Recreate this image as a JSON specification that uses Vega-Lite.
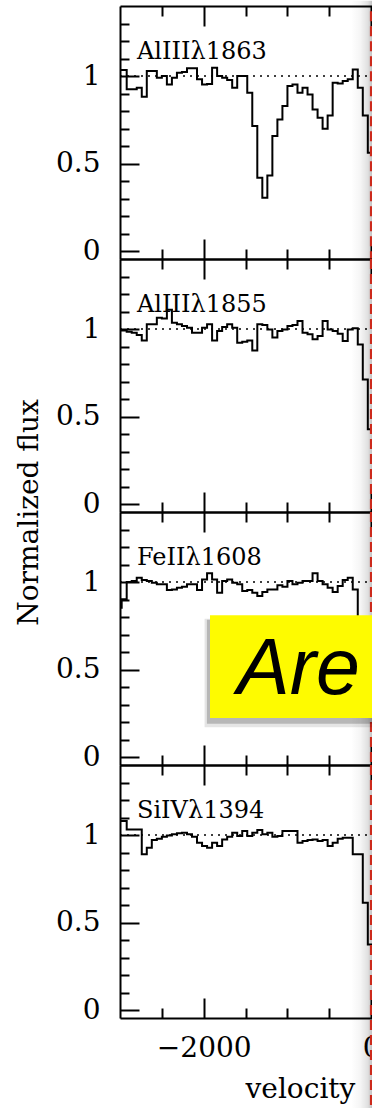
{
  "$schema": "https://vega.github.io/schema/vega-lite/v6.json",
  "padding": {"left": 15, "top": 0, "right": 0, "bottom": 0},
  "background": "white",
  "config": {
    "view": {"stroke": null},
    "axis": {"grid": false, "domainColor": "#000", "domainWidth": 2, "tickColor": "#000", "tickWidth": 2, "labelFont": "DejaVu Serif", "labelFontSize": 28, "labelColor": "#000", "titleFont": "DejaVu Serif", "titleFontSize": 28, "titleFontWeight": "normal", "titleColor": "#000", "labelFlush": false, "labelOverlap": false, "labelBound": false}
  },
  "datasets": {
    "s1": [{"v":-3000,"f":1.034},{"v":-2980,"f":1.034},{"v":-2920,"f":0.924},{"v":-2860,"f":0.924},{"v":-2800,"f":0.933},{"v":-2740,"f":0.882},{"v":-2680,"f":1.029},{"v":-2620,"f":1.029},{"v":-2560,"f":0.990},{"v":-2500,"f":1.0},{"v":-2440,"f":0.952},{"v":-2380,"f":0.990},{"v":-2320,"f":1.019},{"v":-2260,"f":1.023},{"v":-2200,"f":1.044},{"v":-2140,"f":1.044},{"v":-2080,"f":0.981},{"v":-2020,"f":0.952},{"v":-1960,"f":0.955},{"v":-1900,"f":1.048},{"v":-1840,"f":1.0},{"v":-1780,"f":0.990},{"v":-1720,"f":0.977},{"v":-1660,"f":0.933},{"v":-1600,"f":1.0},{"v":-1540,"f":1.0},{"v":-1480,"f":0.905},{"v":-1420,"f":0.714},{"v":-1360,"f":0.419},{"v":-1300,"f":0.305},{"v":-1240,"f":0.432},{"v":-1180,"f":0.657},{"v":-1120,"f":0.752},{"v":-1060,"f":0.829},{"v":-1000,"f":0.943},{"v":-940,"f":0.952},{"v":-880,"f":0.905},{"v":-820,"f":0.933},{"v":-760,"f":0.895},{"v":-700,"f":0.809},{"v":-640,"f":0.762},{"v":-580,"f":0.699},{"v":-520,"f":0.775},{"v":-460,"f":0.962},{"v":-400,"f":0.958},{"v":-340,"f":0.971},{"v":-280,"f":0.981},{"v":-220,"f":1.038},{"v":-160,"f":0.933},{"v":-100,"f":0.775},{"v":-40,"f":0.562},{"v":20,"f":0.562}],
    "s2": [{"v":-3000,"f":0.992},{"v":-2980,"f":0.992},{"v":-2920,"f":0.985},{"v":-2860,"f":0.979},{"v":-2800,"f":0.966},{"v":-2740,"f":0.935},{"v":-2680,"f":1.027},{"v":-2620,"f":1.027},{"v":-2560,"f":1.065},{"v":-2500,"f":1.06},{"v":-2440,"f":1.11},{"v":-2380,"f":1.036},{"v":-2320,"f":1.027},{"v":-2260,"f":1.017},{"v":-2200,"f":1.008},{"v":-2140,"f":0.979},{"v":-2080,"f":0.979},{"v":-2020,"f":1.008},{"v":-1960,"f":1.027},{"v":-1900,"f":0.935},{"v":-1840,"f":0.989},{"v":-1780,"f":1.011},{"v":-1720,"f":1.027},{"v":-1660,"f":1.008},{"v":-1600,"f":0.922},{"v":-1540,"f":0.928},{"v":-1480,"f":0.935},{"v":-1420,"f":0.878},{"v":-1360,"f":1.027},{"v":-1300,"f":1.023},{"v":-1240,"f":0.998},{"v":-1180,"f":0.951},{"v":-1120,"f":0.989},{"v":-1060,"f":0.998},{"v":-1000,"f":1.017},{"v":-940,"f":1.023},{"v":-880,"f":1.046},{"v":-820,"f":0.979},{"v":-760,"f":0.970},{"v":-700,"f":0.941},{"v":-640,"f":0.960},{"v":-580,"f":1.046},{"v":-520,"f":0.998},{"v":-460,"f":0.989},{"v":-400,"f":0.973},{"v":-340,"f":0.931},{"v":-280,"f":0.998},{"v":-220,"f":1.004},{"v":-160,"f":0.912},{"v":-100,"f":0.712},{"v":-40,"f":0.427},{"v":20,"f":0.427}],
    "s3": [{"v":-3000,"f":0.853},{"v":-2980,"f":0.901},{"v":-2920,"f":1.0},{"v":-2860,"f":1.006},{"v":-2800,"f":1.025},{"v":-2740,"f":1.011},{"v":-2680,"f":1.006},{"v":-2620,"f":0.996},{"v":-2560,"f":0.987},{"v":-2500,"f":0.987},{"v":-2440,"f":0.954},{"v":-2380,"f":0.958},{"v":-2320,"f":0.968},{"v":-2260,"f":0.973},{"v":-2200,"f":0.987},{"v":-2140,"f":0.987},{"v":-2080,"f":0.954},{"v":-2020,"f":1.015},{"v":-1960,"f":1.05},{"v":-1900,"f":1.015},{"v":-1840,"f":0.939},{"v":-1780,"f":1.006},{"v":-1720,"f":1.015},{"v":-1660,"f":0.996},{"v":-1600,"f":0.987},{"v":-1540,"f":0.949},{"v":-1480,"f":0.954},{"v":-1420,"f":0.939},{"v":-1360,"f":0.920},{"v":-1300,"f":0.943},{"v":-1240,"f":0.958},{"v":-1180,"f":0.958},{"v":-1120,"f":0.981},{"v":-1060,"f":0.973},{"v":-1000,"f":1.006},{"v":-940,"f":0.987},{"v":-880,"f":0.996},{"v":-820,"f":1.006},{"v":-760,"f":1.006},{"v":-700,"f":1.05},{"v":-640,"f":1.006},{"v":-580,"f":0.987},{"v":-520,"f":0.968},{"v":-460,"f":0.943},{"v":-400,"f":0.977},{"v":-340,"f":1.011},{"v":-280,"f":1.025},{"v":-220,"f":0.958},{"v":-160,"f":0.55},{"v":-100,"f":0.35},{"v":-40,"f":0.3},{"v":20,"f":0.3}],
    "s4": [{"v":-3000,"f":1.08},{"v":-2980,"f":1.08},{"v":-2920,"f":1.032},{"v":-2860,"f":1.032},{"v":-2800,"f":1.032},{"v":-2740,"f":0.89},{"v":-2680,"f":0.928},{"v":-2620,"f":0.971},{"v":-2560,"f":0.979},{"v":-2500,"f":0.99},{"v":-2440,"f":0.998},{"v":-2380,"f":1.004},{"v":-2320,"f":1.01},{"v":-2260,"f":1.013},{"v":-2200,"f":1.004},{"v":-2140,"f":0.99},{"v":-2080,"f":0.956},{"v":-2020,"f":0.937},{"v":-1960,"f":0.928},{"v":-1900,"f":0.956},{"v":-1840,"f":0.937},{"v":-1780,"f":0.975},{"v":-1720,"f":0.99},{"v":-1660,"f":1.013},{"v":-1600,"f":0.994},{"v":-1540,"f":1.023},{"v":-1480,"f":0.994},{"v":-1420,"f":1.013},{"v":-1360,"f":1.029},{"v":-1300,"f":1.004},{"v":-1240,"f":1.013},{"v":-1180,"f":0.99},{"v":-1120,"f":0.994},{"v":-1060,"f":1.023},{"v":-1000,"f":1.023},{"v":-940,"f":1.023},{"v":-880,"f":0.956},{"v":-820,"f":0.966},{"v":-760,"f":0.971},{"v":-700,"f":0.975},{"v":-640,"f":0.966},{"v":-580,"f":0.971},{"v":-520,"f":0.937},{"v":-460,"f":0.956},{"v":-400,"f":0.979},{"v":-340,"f":0.985},{"v":-280,"f":0.985},{"v":-220,"f":0.89},{"v":-160,"f":0.89},{"v":-100,"f":0.613},{"v":-40,"f":0.375},{"v":20,"f":0.375}]
  },
  "spacing": 0,
  "bounds": "flush",
  "vconcat": [
    {
      "width": 252, "height": 253,
      "resolve": {"axis": {"x": "independent", "y": "independent"}},
      "layer": [
        {"data": {"name": "s1"}, "mark": {"type": "line", "interpolate": "step-after", "color": "#000", "strokeWidth": 2, "clip": true},
         "encoding": {
           "x": {"field": "v", "type": "quantitative", "scale": {"domain": [-3000, 10], "nice": false, "zero": false}, "axis": {"orient": "bottom", "values": [-2000, 0], "tickSize": -20, "labels": false, "title": null}},
           "y": {"field": "f", "type": "quantitative", "scale": {"domain": [-0.045, 1.4], "nice": false, "zero": false}, "axis": {"orient": "left", "values": [0, 0.5, 1], "tickSize": -19, "labelPadding": 39, "format": "~g", "labelBaseline": "middle", "title": null}}}},
        {"data": {"values": [{}]}, "mark": {"type": "rule", "color": "#000", "strokeWidth": 1.5, "strokeDash": [2, 5]},
         "encoding": {
           "x": {"datum": -3000, "type": "quantitative", "axis": {"orient": "bottom", "values": [-2500, -1500, -1000, -500], "tickSize": -10, "labels": false, "domain": false, "title": null}},
           "x2": {"datum": 10},
           "y": {"datum": 1, "type": "quantitative", "axis": {"orient": "left", "values": [0.1, 0.2, 0.3, 0.4, 0.6, 0.7, 0.8, 0.9, 1.1, 1.2, 1.3], "tickSize": -9, "labels": false, "domain": false, "title": null}}}},
        {"data": {"values": [{"t": "AlIIIλ1863"}]}, "mark": {"type": "text", "font": "DejaVu Serif", "fontSize": 24, "align": "left", "baseline": "alphabetic", "color": "#000"},
         "encoding": {
           "x": {"datum": -2797, "type": "quantitative", "axis": {"orient": "top", "values": [-2000, 0], "tickSize": -20, "labels": false, "title": null}},
           "y": {"datum": 1.1, "type": "quantitative", "axis": null},
           "text": {"field": "t"}}},
        {"data": {"values": [{}]}, "mark": {"type": "rect", "fill": {"gradient": "linear", "x1": 0, "y1": 0, "x2": 1, "y2": 0, "stops": [{"offset": 0, "color": "rgba(0,0,0,0)"}, {"offset": 0.45, "color": "rgba(0,0,0,0.04)"}, {"offset": 0.8, "color": "rgba(0,0,0,0.12)"}, {"offset": 1, "color": "rgba(0,0,0,0.24)"}]}},
         "encoding": {
           "x": {"datum": -240, "type": "quantitative", "axis": {"orient": "top", "values": [-2500, -1500, -1000, -500], "tickSize": -10, "labels": false, "domain": false, "title": null}},
           "x2": {"datum": 10},
           "y": {"datum": 1.43, "type": "quantitative", "axis": null},
           "y2": {"datum": -0.045}}},
        {"data": {"values": [{}]}, "mark": {"type": "rule", "color": "#cc2a1c", "strokeWidth": 2.5, "strokeDash": [10, 5]},
         "encoding": {"x": {"datum": 0, "type": "quantitative", "axis": null}, "y": {"datum": 1.37, "type": "quantitative", "axis": null}, "y2": {"datum": -0.045}}}
      ]
    },
    {
      "width": 252, "height": 253,
      "resolve": {"axis": {"x": "independent", "y": "independent"}},
      "layer": [
        {"data": {"name": "s2"}, "mark": {"type": "line", "interpolate": "step-after", "color": "#000", "strokeWidth": 2, "clip": true},
         "encoding": {
           "x": {"field": "v", "type": "quantitative", "scale": {"domain": [-3000, 10], "nice": false, "zero": false}, "axis": {"orient": "bottom", "values": [-2000, 0], "tickSize": -20, "labels": false, "title": null}},
           "y": {"field": "f", "type": "quantitative", "scale": {"domain": [-0.045, 1.4], "nice": false, "zero": false}, "axis": {"orient": "left", "values": [0, 0.5, 1], "tickSize": -19, "labelPadding": 39, "format": "~g", "labelBaseline": "middle", "title": "Normalized flux", "titleX": -83, "titleY": 253, "titleAngle": -90, "titleAlign": "center", "titleBaseline": "alphabetic"}}}},
        {"data": {"values": [{}]}, "mark": {"type": "rule", "color": "#000", "strokeWidth": 1.5, "strokeDash": [2, 5]},
         "encoding": {
           "x": {"datum": -3000, "type": "quantitative", "axis": {"orient": "bottom", "values": [-2500, -1500, -1000, -500], "tickSize": -10, "labels": false, "domain": false, "title": null}},
           "x2": {"datum": 10},
           "y": {"datum": 1, "type": "quantitative", "axis": {"orient": "left", "values": [0.1, 0.2, 0.3, 0.4, 0.6, 0.7, 0.8, 0.9, 1.1, 1.2, 1.3], "tickSize": -9, "labels": false, "domain": false, "title": null}}}},
        {"data": {"values": [{"t": "AlIIIλ1855"}]}, "mark": {"type": "text", "font": "DejaVu Serif", "fontSize": 24, "align": "left", "baseline": "alphabetic", "color": "#000"},
         "encoding": {
           "x": {"datum": -2797, "type": "quantitative", "axis": {"orient": "top", "values": [-2000, 0], "tickSize": -20, "labels": false, "title": null}},
           "y": {"datum": 1.1, "type": "quantitative", "axis": null},
           "text": {"field": "t"}}},
        {"data": {"values": [{}]}, "mark": {"type": "rect", "fill": {"gradient": "linear", "x1": 0, "y1": 0, "x2": 1, "y2": 0, "stops": [{"offset": 0, "color": "rgba(0,0,0,0)"}, {"offset": 0.45, "color": "rgba(0,0,0,0.04)"}, {"offset": 0.8, "color": "rgba(0,0,0,0.12)"}, {"offset": 1, "color": "rgba(0,0,0,0.24)"}]}},
         "encoding": {
           "x": {"datum": -240, "type": "quantitative", "axis": {"orient": "top", "values": [-2500, -1500, -1000, -500], "tickSize": -10, "labels": false, "domain": false, "title": null}},
           "x2": {"datum": 10},
           "y": {"datum": 1.4, "type": "quantitative", "axis": null},
           "y2": {"datum": -0.045}}},
        {"data": {"values": [{}]}, "mark": {"type": "rule", "color": "#cc2a1c", "strokeWidth": 2.5, "strokeDash": [10, 5]},
         "encoding": {"x": {"datum": 0, "type": "quantitative", "axis": null}}}
      ]
    },
    {
      "width": 252, "height": 253,
      "resolve": {"axis": {"x": "independent", "y": "independent"}},
      "layer": [
        {"data": {"name": "s3"}, "mark": {"type": "line", "interpolate": "step-after", "color": "#000", "strokeWidth": 2, "clip": true},
         "encoding": {
           "x": {"field": "v", "type": "quantitative", "scale": {"domain": [-3000, 10], "nice": false, "zero": false}, "axis": {"orient": "bottom", "values": [-2000, 0], "tickSize": -20, "labels": false, "title": null}},
           "y": {"field": "f", "type": "quantitative", "scale": {"domain": [-0.045, 1.4], "nice": false, "zero": false}, "axis": {"orient": "left", "values": [0, 0.5, 1], "tickSize": -19, "labelPadding": 39, "format": "~g", "labelBaseline": "middle", "title": null}}}},
        {"data": {"values": [{}]}, "mark": {"type": "rule", "color": "#000", "strokeWidth": 1.5, "strokeDash": [2, 5]},
         "encoding": {
           "x": {"datum": -3000, "type": "quantitative", "axis": {"orient": "bottom", "values": [-2500, -1500, -1000, -500], "tickSize": -10, "labels": false, "domain": false, "title": null}},
           "x2": {"datum": 10},
           "y": {"datum": 1, "type": "quantitative", "axis": {"orient": "left", "values": [0.1, 0.2, 0.3, 0.4, 0.6, 0.7, 0.8, 0.9, 1.1, 1.2, 1.3], "tickSize": -9, "labels": false, "domain": false, "title": null}}}},
        {"data": {"values": [{"t": "FeIIλ1608"}]}, "mark": {"type": "text", "font": "DejaVu Serif", "fontSize": 24, "align": "left", "baseline": "alphabetic", "color": "#000"},
         "encoding": {
           "x": {"datum": -2797, "type": "quantitative", "axis": {"orient": "top", "values": [-2000, 0], "tickSize": -20, "labels": false, "title": null}},
           "y": {"datum": 1.1, "type": "quantitative", "axis": null},
           "text": {"field": "t"}}},
        {"data": {"values": [{}]}, "mark": {"type": "rect", "fill": {"gradient": "linear", "x1": 0, "y1": 0, "x2": 1, "y2": 0, "stops": [{"offset": 0, "color": "rgba(0,0,0,0)"}, {"offset": 0.45, "color": "rgba(0,0,0,0.04)"}, {"offset": 0.8, "color": "rgba(0,0,0,0.12)"}, {"offset": 1, "color": "rgba(0,0,0,0.24)"}]}},
         "encoding": {
           "x": {"datum": -240, "type": "quantitative", "axis": {"orient": "top", "values": [-2500, -1500, -1000, -500], "tickSize": -10, "labels": false, "domain": false, "title": null}},
           "x2": {"datum": 10},
           "y": {"datum": 1.4, "type": "quantitative", "axis": null},
           "y2": {"datum": -0.045}}},
        {"data": {"values": [{}]}, "mark": {"type": "rule", "color": "#cc2a1c", "strokeWidth": 2.5, "strokeDash": [10, 5]},
         "encoding": {"x": {"datum": 0, "type": "quantitative", "axis": null}}},
        {"data": {"values": [{}]}, "mark": {"type": "rect", "color": "#000", "opacity": 0.1},
         "encoding": {"x": {"datum": -1990, "type": "quantitative", "axis": null}, "x2": {"datum": 30}, "y": {"datum": 0.79, "type": "quantitative", "axis": null}, "y2": {"datum": 0.17}}},
        {"data": {"values": [{}]}, "mark": {"type": "rect", "color": "#000", "opacity": 0.2},
         "encoding": {"x": {"datum": -1962, "type": "quantitative", "axis": null}, "x2": {"datum": 30}, "y": {"datum": 0.785, "type": "quantitative", "axis": null}, "y2": {"datum": 0.19}}},
        {"data": {"values": [{}]}, "mark": {"type": "rect", "color": "#fefb00", "opacity": 1},
         "encoding": {"x": {"datum": -1925, "type": "quantitative", "axis": null}, "x2": {"datum": 30}, "y": {"datum": 0.811, "type": "quantitative", "axis": null}, "y2": {"datum": 0.223}}},
        {"data": {"values": [{"t": "Are"}]}, "mark": {"type": "text", "font": "Liberation Sans", "fontStyle": "italic", "fontSize": 79, "align": "left", "baseline": "alphabetic", "color": "#000"},
         "encoding": {"x": {"datum": -1602, "type": "quantitative", "axis": null}, "y": {"datum": 0.36, "type": "quantitative", "axis": null}, "text": {"field": "t"}}}
      ]
    },
    {
      "width": 252, "height": 253,
      "resolve": {"axis": {"x": "independent", "y": "independent"}},
      "layer": [
        {"data": {"name": "s4"}, "mark": {"type": "line", "interpolate": "step-after", "color": "#000", "strokeWidth": 2, "clip": true},
         "encoding": {
           "x": {"field": "v", "type": "quantitative", "scale": {"domain": [-3000, 10], "nice": false, "zero": false}, "axis": {"orient": "bottom", "values": [-2000, 0], "tickSize": -20, "labels": true, "format": "d", "labelPadding": 58, "labelBaseline": "alphabetic", "title": "velocity", "titleX": 125, "titleY": 79, "titleAlign": "left", "titleBaseline": "alphabetic", "titleAngle": 0}},
           "y": {"field": "f", "type": "quantitative", "scale": {"domain": [-0.045, 1.4], "nice": false, "zero": false}, "axis": {"orient": "left", "values": [0, 0.5, 1], "tickSize": -19, "labelPadding": 39, "format": "~g", "labelBaseline": "middle", "title": null}}}},
        {"data": {"values": [{}]}, "mark": {"type": "rule", "color": "#000", "strokeWidth": 1.5, "strokeDash": [2, 5]},
         "encoding": {
           "x": {"datum": -3000, "type": "quantitative", "axis": {"orient": "bottom", "values": [-2500, -1500, -1000, -500], "tickSize": -10, "labels": false, "domain": false, "title": null}},
           "x2": {"datum": 10},
           "y": {"datum": 1, "type": "quantitative", "axis": {"orient": "left", "values": [0.1, 0.2, 0.3, 0.4, 0.6, 0.7, 0.8, 0.9, 1.1, 1.2, 1.3], "tickSize": -9, "labels": false, "domain": false, "title": null}}}},
        {"data": {"values": [{"t": "SiIVλ1394"}]}, "mark": {"type": "text", "font": "DejaVu Serif", "fontSize": 24, "align": "left", "baseline": "alphabetic", "color": "#000"},
         "encoding": {
           "x": {"datum": -2797, "type": "quantitative", "axis": {"orient": "top", "values": [-2000, 0], "tickSize": -20, "labels": false, "title": null}},
           "y": {"datum": 1.1, "type": "quantitative", "axis": null},
           "text": {"field": "t"}}},
        {"data": {"values": [{}]}, "mark": {"type": "rect", "fill": {"gradient": "linear", "x1": 0, "y1": 0, "x2": 1, "y2": 0, "stops": [{"offset": 0, "color": "rgba(0,0,0,0)"}, {"offset": 0.45, "color": "rgba(0,0,0,0.04)"}, {"offset": 0.8, "color": "rgba(0,0,0,0.12)"}, {"offset": 1, "color": "rgba(0,0,0,0.24)"}]}},
         "encoding": {
           "x": {"datum": -240, "type": "quantitative", "axis": {"orient": "top", "values": [-2500, -1500, -1000, -500], "tickSize": -10, "labels": false, "domain": false, "title": null}},
           "x2": {"datum": 10},
           "y": {"datum": 1.4, "type": "quantitative", "axis": null},
           "y2": {"datum": -0.6}}},
        {"data": {"values": [{}]}, "mark": {"type": "rule", "color": "#cc2a1c", "strokeWidth": 2.5, "strokeDash": [10, 5]},
         "encoding": {"x": {"datum": 0, "type": "quantitative", "axis": null}, "y": {"datum": 1.4, "type": "quantitative", "axis": null}, "y2": {"datum": -0.6}}}
      ]
    }
  ]
}
